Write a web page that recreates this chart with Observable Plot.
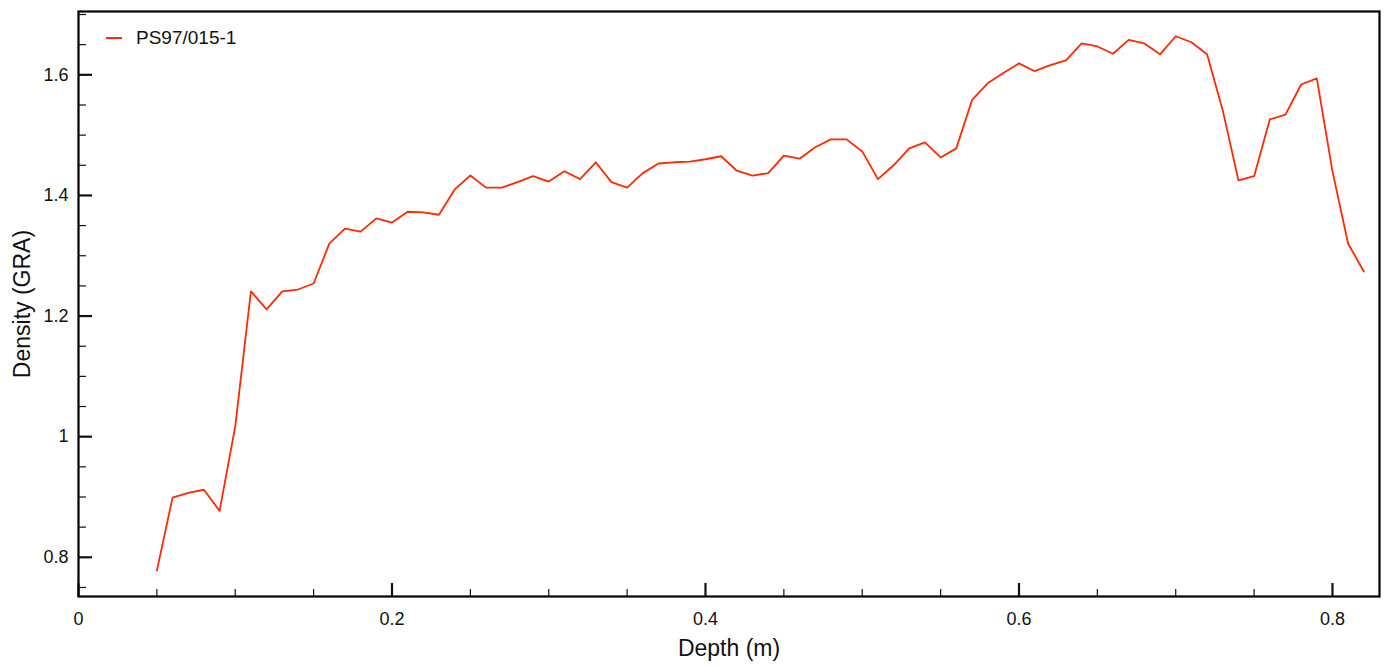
<!DOCTYPE html>
<html>
<head>
<meta charset="utf-8">
<script src="https://cdn.jsdelivr.net/npm/d3@7"></script>
<script src="https://cdn.jsdelivr.net/npm/@observablehq/plot@0.6"></script>
<style>
  html, body { margin: 0; padding: 0; background: #fff; }
  #wrap { position: relative; width: 1388px; height: 667px; font-family: "Liberation Sans", Arial, Helvetica, sans-serif; }
  #legend { position: absolute; left: 106px; top: 27px; display: flex; align-items: center; font-size: 19px; color: #111; }
  #legend .sw { width: 16px; height: 2px; background: #ff2a00; margin-right: 14px; }
</style>
</head>
<body>
<div id="wrap">
  <div id="chart"></div>
  <div id="legend"><span class="sw"></span><span>PS97/015-1</span></div>
</div>
<script>
const seriesName = "PS97/015-1";
const depth = [0.05,0.06,0.07,0.08,0.09,0.10,0.11,0.12,0.13,0.14,0.15,0.16,0.17,0.18,0.19,0.20,0.21,0.22,0.23,0.24,0.25,0.26,0.27,0.28,0.29,0.30,0.31,0.32,0.33,0.34,0.35,0.36,0.37,0.38,0.39,0.40,0.41,0.42,0.43,0.44,0.45,0.46,0.47,0.48,0.49,0.50,0.51,0.52,0.53,0.54,0.55,0.56,0.57,0.58,0.59,0.60,0.61,0.62,0.63,0.64,0.65,0.66,0.67,0.68,0.69,0.70,0.71,0.72,0.73,0.74,0.75,0.76,0.77,0.78,0.79,0.80,0.81,0.82];
const density = [0.778,0.899,0.907,0.912,0.877,1.017,1.241,1.211,1.241,1.244,1.254,1.320,1.345,1.340,1.362,1.355,1.373,1.372,1.368,1.410,1.433,1.413,1.413,1.422,1.432,1.423,1.440,1.427,1.455,1.422,1.413,1.437,1.453,1.455,1.456,1.460,1.465,1.441,1.433,1.437,1.466,1.461,1.480,1.493,1.493,1.473,1.427,1.450,1.478,1.488,1.463,1.478,1.558,1.586,1.603,1.619,1.606,1.616,1.624,1.652,1.647,1.635,1.658,1.652,1.634,1.664,1.654,1.634,1.541,1.425,1.432,1.526,1.534,1.584,1.594,1.440,1.320,1.274];
const xTicks = [0, 0.2, 0.4, 0.6, 0.8];
const xMinorTicks = [0.05, 0.1, 0.15, 0.25, 0.3, 0.35, 0.45, 0.5, 0.55, 0.65, 0.7, 0.75];
const yTicks = [0.8, 1, 1.2, 1.4, 1.6];
const yMinorTicks = [0.75, 0.85, 0.9, 0.95, 1.05, 1.1, 1.15, 1.25, 1.3, 1.35, 1.45, 1.5, 1.55, 1.65, 1.7];

const rows = depth.map((d, i) => ({depth: d, density: density[i]}));
const fmt = d => `${d}`;

const chart = Plot.plot({
  width: 1388,
  height: 667,
  marginLeft: 78,
  marginRight: 9,
  marginTop: 11,
  marginBottom: 71,
  style: {fontFamily: '"Liberation Sans", Arial, Helvetica, sans-serif', fontSize: "18px", color: "#111", background: "#fff"},
  x: {domain: [0, 0.83]},
  y: {domain: [0.735, 1.705]},
  marks: [
    Plot.axisX(xMinorTicks, {anchor: "bottom", tickSize: -7, text: null, label: null, strokeWidth: 1.2}),
    Plot.axisX(xTicks, {anchor: "bottom", tickSize: -13, tickPadding: 29, strokeWidth: 2.2, fontSize: 18, tickFormat: fmt,
      label: "Depth (m)", labelAnchor: "center", labelArrow: "none", labelOffset: 59}),
    Plot.axisY(yMinorTicks, {anchor: "left", tickSize: -8, text: null, label: null, strokeWidth: 1.2}),
    Plot.axisY(yTicks, {anchor: "left", tickSize: -14, tickPadding: 24, strokeWidth: 2.2, fontSize: 18, tickFormat: fmt,
      label: "Density (GRA)", labelAnchor: "center", labelArrow: "none", labelOffset: 65}),
    Plot.line(rows, {x: "depth", y: "density", stroke: "#ff2a00", strokeWidth: 1.8}),
    Plot.frame({stroke: "#000", strokeWidth: 2.2})
  ]
});
document.getElementById("chart").appendChild(chart);
chart.querySelectorAll("[aria-label='x-axis label'], [aria-label='y-axis label']").forEach(g => g.setAttribute("font-size", "23px"));
</script>
</body>
</html>
